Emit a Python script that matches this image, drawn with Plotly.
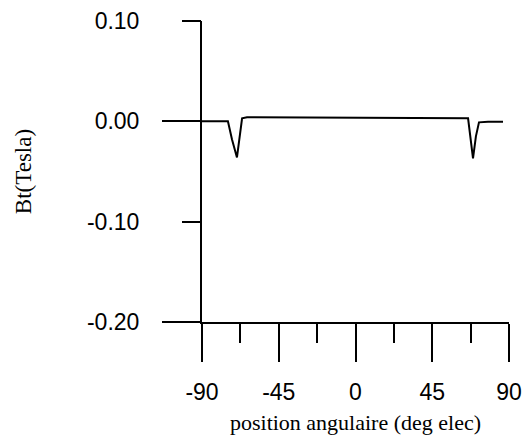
import plotly.graph_objects as go

# Data
angle_deg = [-90, -74.8, -72.4, -69.5, -66.5, -63.6, 66.0, 68.9, 70.6, 72.4, 77.7, 86.5]
bt_tesla = [0.000, 0.000, -0.018, -0.036, 0.003, 0.004, 0.003, -0.037, -0.015, -0.001, -0.0005, -0.0005]

x_ticks = [-90, -45, 0, 45, 90]
x_ticklabels = ["-90", "-45", "0", "45", "90"]
x_minor = [-67.5, -22.5, 22.5, 67.5]
y_ticks = [0.10, 0.00, -0.10, -0.20]
y_ticklabels = ["0.10", "0.00", "-0.10", "-0.20"]
y_long_ticks = [0.00, -0.20]
y_short_ticks = [0.10, -0.10]

fig = go.Figure()
fig.add_trace(go.Scatter(x=angle_deg, y=bt_tesla, mode="lines",
                         line=dict(color="black", width=2), showlegend=False,
                         hoverinfo="skip"))
fig.add_trace(go.Scatter(x=angle_deg, y=bt_tesla, mode="lines", yaxis="y2",
                         line=dict(color="rgba(0,0,0,0)", width=0), showlegend=False,
                         hoverinfo="skip"))

sans = "Liberation Sans, Arial, sans-serif"
serif = "Liberation Serif, Times New Roman, serif"

fig.update_layout(
    width=523, height=435,
    margin=dict(l=202, r=14, t=21, b=113),
    paper_bgcolor="white", plot_bgcolor="white",
    xaxis=dict(
        range=[-90, 90], showgrid=False, zeroline=False,
        showline=True, linecolor="black", linewidth=2,
        ticks="outside", ticklen=38, tickwidth=2, tickcolor="black",
        tickvals=x_ticks, ticktext=x_ticklabels,
        tickfont=dict(family=sans, size=23, color="black"),
        ticklabelstandoff=10,
        minor=dict(tickvals=x_minor, ticks="outside", ticklen=19, tickwidth=2, tickcolor="black"),
        title=dict(text="position angulaire (deg elec)",
                   font=dict(family=serif, size=22, color="black"), standoff=11),
        automargin=False,
    ),
    yaxis=dict(
        range=[-0.20, 0.10], showgrid=False, zeroline=False,
        showline=True, linecolor="black", linewidth=2,
        ticks="", tickvals=y_ticks, ticktext=y_ticklabels,
        tickfont=dict(family=sans, size=23, color="black"),
        ticklabelstandoff=56,
        title=dict(text="Bt(Tesla)", font=dict(family=serif, size=23, color="black"), standoff=49),
        automargin=False,
    ),
    yaxis2=dict(
        range=[-0.20, 0.10], overlaying="y", side="left", anchor="x",
        showgrid=False, zeroline=False, showline=False,
        ticks="outside", ticklen=39, tickwidth=2, tickcolor="black",
        tickvals=y_long_ticks, showticklabels=False,
        minor=dict(tickvals=y_short_ticks, ticks="outside", ticklen=19, tickwidth=2, tickcolor="black"),
        automargin=False,
    ),
)

fig.write_html("out.html")
